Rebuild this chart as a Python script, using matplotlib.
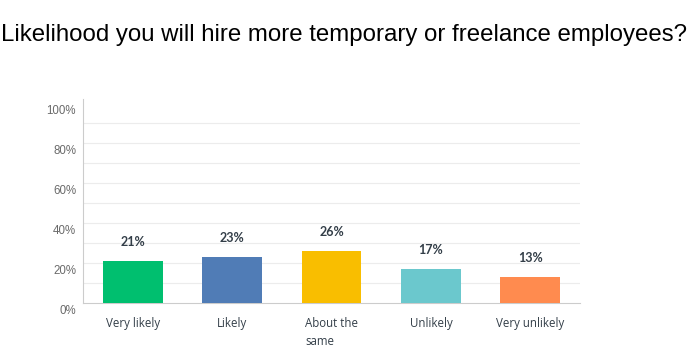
import numpy as np
import matplotlib
matplotlib.use('Agg')
import matplotlib.pyplot as plt
from matplotlib.transforms import ScaledTranslation

categories = ['Very likely', 'Likely', 'About the\nsame', 'Unlikely', 'Very unlikely']
values = [21, 23, 26, 17, 13]
colors = ['#00bf6f', '#507cb6', '#f9be00', '#6bc8cd', '#ff8b4f']
yticks = [0, 20, 40, 60, 80, 100]
ytick_labels = ['0%', '20%', '40%', '60%', '80%', '100%']

fig = plt.figure(figsize=(6.88, 3.56), dpi=100)
ax = fig.add_axes([83 / 688, 1 - 303 / 356, 497 / 688, 200 / 356])

x = np.arange(len(categories))
ax.bar(x, values, width=0.6, color=colors, zorder=3)
for xi, v in zip(x, values):
    ax.annotate(f'{v}%', (xi, v), xytext=(0, 14), textcoords='offset points',
                ha='center', va='center', fontsize=9, fontweight='bold',
                color='#333e48', family='Lato')

for g in range(10, 100, 10):
    ax.axhline(g, color='#ececec', lw=0.8, zorder=1)

ax.set_xlim(-0.5, len(categories) - 0.5)
ax.set_ylim(0, 100)
ax.set_yticks(yticks)
ax.set_yticklabels(ytick_labels, fontsize=8.3, color='#6a6a6a', family='Liberation Sans')
ax.set_xticks(x)
ax.set_xticklabels(categories, fontsize=8.3, color='#333e48', family='Open Sans',
                   multialignment='left', va='top', linespacing=1.5)
ax.tick_params(axis='both', length=0)
ax.tick_params(axis='x', pad=10)
ax.tick_params(axis='y', pad=5)
off = ScaledTranslation(0, -5 / 72, fig.dpi_scale_trans)
for lab in ax.get_yticklabels():
    lab.set_transform(lab.get_transform() + off)

for s in ['top', 'right']:
    ax.spines[s].set_visible(False)
ax.spines['left'].set_color('#cccccc')
ax.spines['bottom'].set_color('#cccccc')
ax.spines['left'].set_bounds(0, 102)

fig.text(344 / 688, 1 - 35 / 356, 'Likelihood you will hire more temporary or freelance employees?',
         ha='center', va='center', fontsize=17.3, family='Liberation Sans', color='black')

fig.savefig('out.png', dpi=100)
